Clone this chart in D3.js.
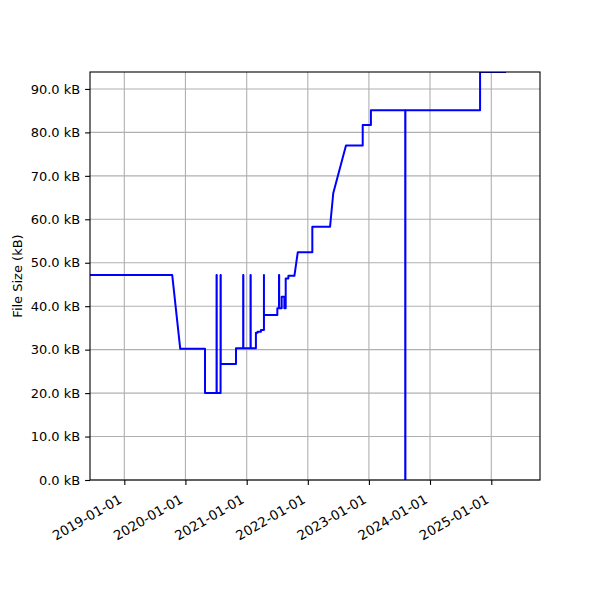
<!DOCTYPE html>
<html>
<head>
<meta charset="utf-8">
<script src="https://cdn.jsdelivr.net/npm/d3@7"></script>
<style>
  body { margin: 0; background: #fff; }
  svg text { font-family: "DejaVu Sans", sans-serif; }
</style>
</head>
<body>
<div id="chart"></div>
<script>
// dates of each sample (a repeated date = a step at that moment)
const dates = [
  "2018-06-10", "2019-10-14", "2019-12-01",
  "2020-04-27", "2020-04-27",
  "2020-07-05", "2020-07-05", "2020-07-06", "2020-07-06",
  "2020-07-29", "2020-07-29", "2020-07-30", "2020-07-30",
  "2020-10-29", "2020-10-29",
  "2020-12-11", "2020-12-11", "2020-12-12", "2020-12-12",
  "2021-01-24", "2021-01-24", "2021-01-25", "2021-01-25",
  "2021-02-25", "2021-02-25",
  "2021-03-07", "2021-03-07",
  "2021-03-27", "2021-03-27",
  "2021-04-14", "2021-04-14", "2021-04-14",
  "2021-07-03", "2021-07-03",
  "2021-07-13", "2021-07-13", "2021-07-14", "2021-07-14",
  "2021-07-29", "2021-07-29",
  "2021-08-14", "2021-08-14",
  "2021-08-22", "2021-08-22",
  "2021-09-07", "2021-09-07",
  "2021-10-13", "2021-11-02",
  "2022-01-28", "2022-01-28",
  "2022-05-14", "2022-06-02", "2022-08-17",
  "2022-11-25", "2022-11-25",
  "2023-01-13", "2023-01-13",
  "2023-08-06", "2023-08-06", "2023-08-07", "2023-08-07",
  "2024-10-26", "2024-10-26",
  "2025-03-30"
];
// file size in kB for each date above
const sizes = [
  47.2, 47.2, 30.2,
  30.2, 20.0,
  20.0, 47.2, 47.2, 20.0,
  20.0, 47.2, 47.2, 26.7,
  26.7, 30.3,
  30.3, 47.2, 47.2, 30.3,
  30.3, 47.2, 47.2, 30.3,
  30.3, 33.9,
  33.9, 34.1,
  34.1, 34.5,
  34.5, 47.2, 38.0,
  38.0, 39.5,
  39.5, 47.2, 47.2, 39.5,
  39.5, 42.2,
  42.2, 39.5,
  39.5, 46.4,
  46.4, 47.0,
  47.0, 52.4,
  52.4, 58.3,
  58.3, 66.0, 77.0,
  77.0, 81.7,
  81.7, 85.1,
  85.1, 0, 0, 85.1,
  85.1, 93.9,
  93.9
];
const xTicks = ["2019-01-01", "2020-01-01", "2021-01-01", "2022-01-01",
                "2023-01-01", "2024-01-01", "2025-01-01"];
const yTicks = [0, 10, 20, 30, 40, 50, 60, 70, 80, 90];

const parse = d3.timeParse("%Y-%m-%d");
const points = dates.map((d, i) => ({ date: parse(d), size: sizes[i] }));

const width = 600, height = 600;
const margin = { top: 72, right: 60, bottom: 120, left: 90 };
const iw = width - margin.left - margin.right;
const ih = height - margin.top - margin.bottom;

const svg = d3.select("#chart").append("svg")
  .attr("width", width)
  .attr("height", height);

const x = d3.scaleTime()
  .domain([parse("2018-06-10"), parse("2025-10-19")])
  .range([margin.left, margin.left + iw]);
const y = d3.scaleLinear()
  .domain([0, 93.9])
  .range([margin.top + ih, margin.top]);

svg.append("defs").append("clipPath").attr("id", "clip")
  .append("rect")
  .attr("x", margin.left).attr("y", margin.top)
  .attr("width", iw).attr("height", ih);

// grid
const grid = svg.append("g").attr("stroke", "#b0b0b0").attr("stroke-width", 1.1);
grid.selectAll(".gx").data(xTicks).join("line")
  .attr("x1", d => x(parse(d))).attr("x2", d => x(parse(d)))
  .attr("y1", margin.top).attr("y2", margin.top + ih);
grid.selectAll(".gy").data(yTicks).join("line")
  .attr("x1", margin.left).attr("x2", margin.left + iw)
  .attr("y1", d => y(d)).attr("y2", d => y(d));

// the size line
const line = d3.line()
  .x(d => x(d.date))
  .y(d => y(d.size));

svg.append("path")
  .datum(points)
  .attr("clip-path", "url(#clip)")
  .attr("fill", "none")
  .attr("stroke", "#0000ff")
  .attr("stroke-width", 2)
  .attr("stroke-linejoin", "round")
  .attr("d", line);

// axes
const xAxis = d3.axisBottom(x)
  .tickValues(xTicks.map(parse))
  .tickFormat(d3.timeFormat("%Y-%m-%d"))
  .tickSize(4.9)
  .tickPadding(4.9);
const gx = svg.append("g")
  .attr("transform", `translate(0,${margin.top + ih})`)
  .call(xAxis);
gx.select(".domain").remove();
gx.selectAll(".tick line").attr("stroke", "#000").attr("stroke-width", 1.1);
gx.selectAll(".tick text")
  .attr("font-size", 13.3)
  .attr("fill", "#000")
  .attr("text-anchor", "end")
  .attr("dy", null)
  .attr("y", null)
  .attr("transform", "translate(-2,22) rotate(-30)");

const yAxis = d3.axisLeft(y)
  .tickValues(yTicks)
  .tickFormat(d => d.toFixed(1) + " kB")
  .tickSize(4.9)
  .tickPadding(4.9);
const gy = svg.append("g")
  .attr("transform", `translate(${margin.left},0)`)
  .call(yAxis);
gy.select(".domain").remove();
gy.selectAll(".tick line").attr("stroke", "#000").attr("stroke-width", 1.1);
gy.selectAll(".tick text").attr("font-size", 13).attr("fill", "#000");

// frame
svg.append("rect")
  .attr("x", margin.left).attr("y", margin.top)
  .attr("width", iw).attr("height", ih)
  .attr("fill", "none")
  .attr("stroke", "#000")
  .attr("stroke-width", 1.1);

svg.append("text")
  .attr("transform", `translate(17,${margin.top + ih / 2}) rotate(-90)`)
  .attr("text-anchor", "middle")
  .attr("dominant-baseline", "central")
  .attr("font-size", 13)
  .text("File Size (kB)");
</script>
</body>
</html>
